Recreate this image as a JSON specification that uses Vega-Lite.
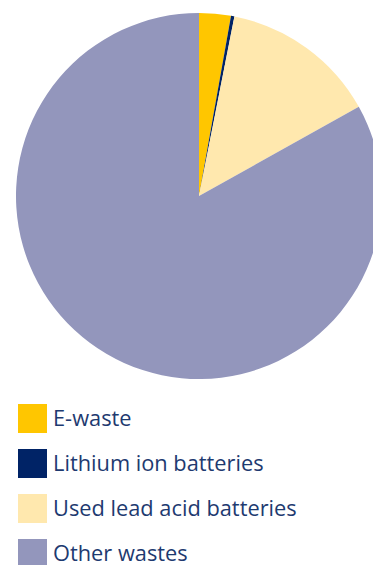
{
  "$schema": "https://vega.github.io/schema/vega-lite/v6.json",
  "width": 398,
  "height": 392,
  "autosize": {"type": "none"},
  "padding": {"left": 0, "top": 0, "right": 0, "bottom": 173},
  "background": "white",
  "data": {"values": [
    {"category": "E-waste", "share": 2.8, "idx": 1},
    {"category": "Lithium ion batteries", "share": 0.3, "idx": 2},
    {"category": "Used lead acid batteries", "share": 13.8, "idx": 3},
    {"category": "Other wastes", "share": 83.1, "idx": 4}
  ]},
  "mark": {"type": "arc", "outerRadius": 183, "stroke": null},
  "encoding": {
    "theta": {"field": "share", "type": "quantitative", "stack": true},
    "order": {"field": "idx", "type": "quantitative"},
    "color": {
      "field": "category",
      "type": "nominal",
      "scale": {
        "domain": ["E-waste", "Lithium ion batteries", "Used lead acid batteries", "Other wastes"],
        "range": ["#FFC600", "#002366", "#FFE8AE", "#9396BC"]
      },
      "legend": {
        "orient": "none",
        "legendX": 18,
        "legendY": 404,
        "title": null,
        "symbolType": "square",
        "symbolSize": 841,
        "symbolStrokeWidth": 0,
        "symbolOpacity": 1,
        "rowPadding": 16,
        "labelOffset": 6,
        "labelFontSize": 21.8,
        "labelFont": "Open Sans",
        "labelColor": "#1E3A70",
        "labelLimit": 400
      }
    }
  }
}
